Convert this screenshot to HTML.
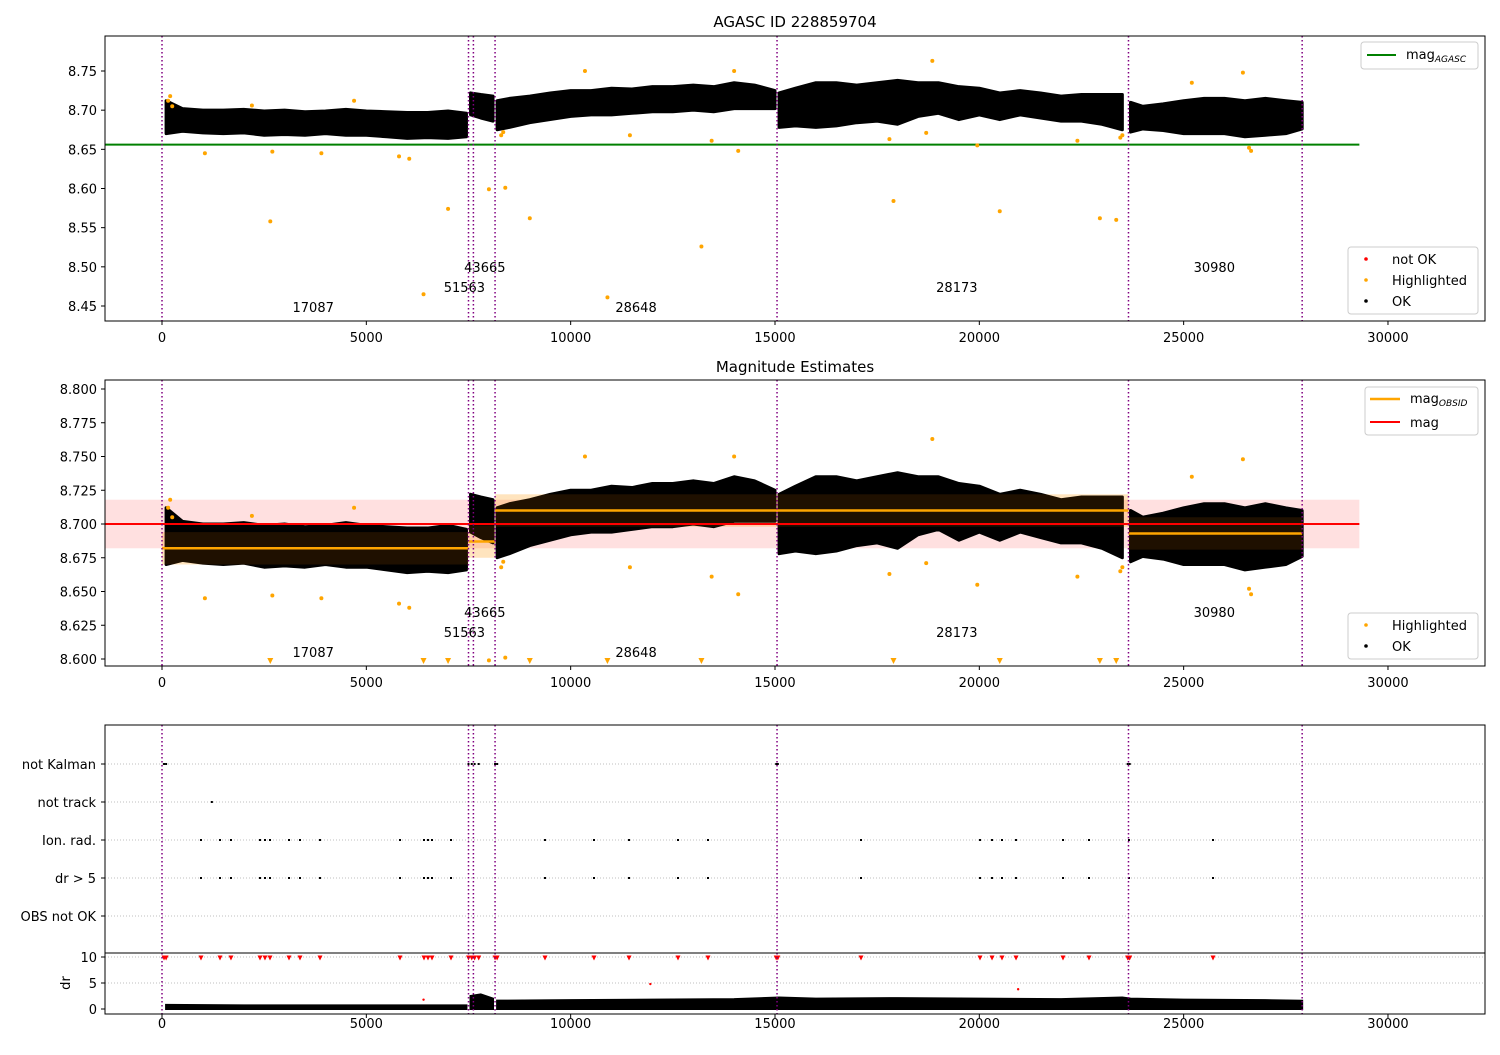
<!DOCTYPE html>
<html><head><meta charset="utf-8"><style>
body{margin:0;background:#fff}
svg text{font-family:"DejaVu Sans","Liberation Sans",sans-serif;fill:#000}
</style></head><body>
<svg id="c" width="1500" height="1050" xmlns="http://www.w3.org/2000/svg"></svg>
<script>
// ---- data ----
const seg1T=[100,500,1000,1500,2000,2500,3000,3500,4000,4500,5000,5500,6000,6500,7000,7450];
const seg1Hi=[8.712,8.702,8.700,8.700,8.701,8.699,8.700,8.698,8.699,8.701,8.699,8.698,8.697,8.697,8.699,8.696];
const seg1Lo=[8.670,8.673,8.671,8.670,8.671,8.668,8.669,8.668,8.670,8.668,8.668,8.666,8.664,8.665,8.664,8.666];
const seg2T=[7550,7800,8100];
const seg2Hi=[8.722,8.720,8.718];
const seg2Lo=[8.694,8.690,8.686];
const seg3T=[8200,8500,9000,9500,10000,10500,11000,11500,12000,12500,13000,13500,14000,14500,15000];
const seg3Hi=[8.712,8.715,8.718,8.722,8.725,8.725,8.728,8.727,8.730,8.730,8.732,8.730,8.735,8.732,8.725];
const seg3Lo=[8.675,8.678,8.684,8.688,8.692,8.694,8.694,8.696,8.698,8.698,8.700,8.698,8.702,8.702,8.702];
const seg4T=[15100,15500,16000,16500,17000,17500,18000,18500,19000,19500,20000,20500,21000,21500,22000,22500,23000,23500];
const seg4Hi=[8.722,8.728,8.735,8.735,8.732,8.735,8.738,8.735,8.735,8.730,8.728,8.722,8.725,8.722,8.718,8.720,8.720,8.720];
const seg4Lo=[8.678,8.680,8.678,8.680,8.684,8.686,8.682,8.692,8.696,8.688,8.694,8.688,8.694,8.690,8.686,8.686,8.682,8.675];
const seg5T=[23700,24000,24500,25000,25500,26000,26500,27000,27500,27900];
const seg5Hi=[8.710,8.705,8.708,8.712,8.715,8.715,8.712,8.715,8.712,8.710];
const seg5Lo=[8.672,8.676,8.674,8.670,8.670,8.670,8.666,8.668,8.670,8.676];
const hlT=[150,200,250,2650,1050,2700,3900,5800,6050,6400,7000,8000,8400,8300,8350,9000,10900,11450,13200,13450,14100,17800,17900,18700,19950,20500,22400,22950,23350,23450,23500,10350,14000,18850,26450,25200,26600,26650,4700,2200];
const hlV=[8.712,8.718,8.705,8.558,8.645,8.647,8.645,8.641,8.638,8.465,8.574,8.599,8.601,8.668,8.672,8.562,8.461,8.668,8.526,8.661,8.648,8.663,8.584,8.671,8.655,8.571,8.661,8.562,8.560,8.665,8.668,8.750,8.750,8.763,8.748,8.735,8.652,8.648,8.712,8.706];
const obsT=[0,7500,7620,8150,15050,23650,27900];
const stepStart=[0,7500,8150,15050,23650];
const stepEnd=[7500,8150,15050,23650,27900];
const stepMag=[8.682,8.687,8.710,8.710,8.693];
const magAgasc=8.656, magMean=8.700, magStd=0.018;
const obsLabels=["17087","51563","43665","28648","28173","30980"];
const obsLabelT=[3700,7400,7900,11600,19450,25750];
const obsLabelLvl=[0,1,2,0,1,2];
const flagCats=["not Kalman","not track","Ion. rad.","dr > 5","OBS not OK"];
const kalmanT=[50,100,7500,7580,7650,7750,8150,8200,15030,15070,23630,23680];
const trackT=[1220];
const ionT=[954,1419,1688,2398,2520,2643,3108,3377,3866,5824,6411,6509,6607,7072,9372,10571,11428,12627,13361,17105,20017,20311,20555,20898,22048,22684,23662,25718];
const drT=[100,2000,4000,6000,7450,7550,7800,8100,8200,10000,12000,14000,15100,16000,18000,20000,22000,23500,23700,25000,27000,27900];
const drHi=[0.8,0.7,0.7,0.7,0.7,2.5,2.8,2.0,1.6,1.7,1.8,1.9,2.2,2.0,2.1,2.0,1.9,2.2,2.0,1.8,1.7,1.6];
const drExtraT=[11950,20950,6400];const drExtraV=[4.8,3.8,1.8];
const xTicks=[0,5000,10000,15000,20000,25000,30000];
const y1Ticks=[8.45,8.50,8.55,8.60,8.65,8.70,8.75];
const y2Ticks=[8.600,8.625,8.650,8.675,8.700,8.725,8.750,8.775,8.800];
const drTicks=[0,5,10];
// ---- scales ----
const X=v=>162+v*0.040866;
const Y1=v=>71+(8.75-v)*783.3;
const Y2=v=>389+(8.8-v)*1350;
const YF=i=>764+i*38;
const YD=v=>1009-v*5.2;
const svg=document.getElementById('c');
const NS='http://www.w3.org/2000/svg';
function mk(tag,a,name,parent){const e=document.createElementNS(NS,tag);for(const k in a)e.setAttribute(k,a[k]);


(parent||svg).appendChild(e);return e;}
function txt(x,y,s,name,o){const e=mk('text',Object.assign({x:x,y:y,'font-size':13},o||{}),name);e.textContent=s;return e;}
const clipDefs=mk('defs',{},'defs');
function clip(id,y0,y1){const cp=mk('clipPath',{id:id},'clip',clipDefs);mk('rect',{x:105,y:y0,width:1380,height:y1-y0},'clip-rect',cp);}
clip('c1',36,321);clip('c2',380,666);clip('c3',725,1014);
const segs=[[seg1T,seg1Hi,seg1Lo],[seg2T,seg2Hi,seg2Lo],[seg3T,seg3Hi,seg3Lo],[seg4T,seg4Hi,seg4Lo],[seg5T,seg5Hi,seg5Lo]];
function band(Y,g,name){segs.forEach((s,i)=>{let p=s[0].map((t,j)=>X(t)+','+Y(s[1][j]));p=p.concat(s[0].map((t,j)=>X(t)+','+Y(s[2][j])).reverse());
mk('polygon',{points:p.join(' '),fill:'#000',stroke:'#000','stroke-width':3,'stroke-linejoin':'round'},name+'-ok-points-'+i,g);});}
function vlines(y0,y1,g){obsT.forEach(t=>{mk('line',{x1:X(t),x2:X(t),y1:y0,y2:y1,stroke:'#800080','stroke-width':1.5,'stroke-dasharray':'1.5,2.5'},'obsid-boundary',g);});}
function xaxis(yb,yl){xTicks.forEach(t=>{mk('line',{x1:X(t),x2:X(t),y1:yb,y2:yb+4,stroke:'#000'},'x-tick');txt(X(t),yl,String(t),'x-tick-label',{'text-anchor':'middle'});});}
function obsText(Y0,step){obsLabels.forEach((s,i)=>txt(X(obsLabelT[i]),Y0-obsLabelLvl[i]*step,s,'obsid-label',{'text-anchor':'middle'}));}
// ---- panel 1 ----
txt(795,27,'AGASC ID 228859704','title-agasc',{'text-anchor':'middle','font-size':15});
const g1=mk('g',{'clip-path':'url(#c1)'},'panel1-plot');
band(Y1,g1,'p1');
mk('line',{x1:105,x2:X(29300),y1:Y1(magAgasc),y2:Y1(magAgasc),stroke:'#008000','stroke-width':2},'mag-agasc-line',g1);
hlT.forEach((t,i)=>mk('circle',{cx:X(t),cy:Y1(hlV[i]),r:2,fill:'orange'},'highlighted-point',g1));
vlines(36,321,g1);
obsText(312,20);
mk('rect',{x:105,y:36,width:1380,height:285,fill:'none',stroke:'#000'},'panel1-frame');
y1Ticks.forEach(v=>{mk('line',{x1:101,x2:105,y1:Y1(v),y2:Y1(v),stroke:'#000'},'y-tick');txt(97,Y1(v)+5,v.toFixed(2),'y-tick-label',{'text-anchor':'end'});});
xaxis(321,342);
mk('rect',{x:1361,y:42,width:117,height:27,fill:'#fff',stroke:'#ccc',rx:3},'legend-p1-top');
mk('line',{x1:1367,x2:1396,y1:55,y2:55,stroke:'#008000','stroke-width':2},'legend-mag-agasc-swatch');
const lt=txt(1406,59,'mag','legend-mag-agasc');const ts=document.createElementNS(NS,'tspan');ts.setAttribute('font-size',9);ts.setAttribute('dy',3);ts.setAttribute('font-style','italic');ts.textContent='AGASC';lt.appendChild(ts);
mk('rect',{x:1348,y:247,width:130,height:67,fill:'#fff',stroke:'#ccc',rx:3},'legend-p1-bottom');
[['red','not OK'],['orange','Highlighted'],['#000','OK']].forEach((e,i)=>{mk('circle',{cx:1366,cy:259+i*21,r:1.8,fill:e[0]},'legend-swatch');txt(1392,264+i*21,e[1],'legend-entry');});
// ---- panel 2 ----
txt(795,372,'Magnitude Estimates','title-mag-estimates',{'text-anchor':'middle','font-size':15});
const g2=mk('g',{'clip-path':'url(#c2)'},'panel2-plot');
mk('rect',{x:105,y:Y2(magMean+magStd),width:X(29300)-105,height:Y2(magMean-magStd)-Y2(magMean+magStd),fill:'rgba(255,0,0,0.12)'},'mag-std-band',g2);
stepMag.forEach((m,i)=>mk('rect',{x:X(stepStart[i]),y:Y2(m+0.012),width:X(stepEnd[i])-X(stepStart[i]),height:Y2(m-0.012)-Y2(m+0.012),fill:'rgba(255,165,0,0.15)'},'mag-obsid-band',g2));
band(Y2,g2,'p2');
stepMag.forEach((m,i)=>mk('rect',{x:X(stepStart[i]),y:Y2(m+0.012),width:X(stepEnd[i])-X(stepStart[i]),height:Y2(m-0.012)-Y2(m+0.012),fill:'rgba(255,130,0,0.12)'},'mag-obsid-band-overlay',g2));
stepMag.forEach((m,i)=>mk('line',{x1:X(stepStart[i]),x2:X(stepEnd[i]),y1:Y2(m),y2:Y2(m),stroke:'orange','stroke-width':2.5},'mag-obsid-step',g2));
mk('line',{x1:105,x2:X(29300),y1:Y2(magMean),y2:Y2(magMean),stroke:'red','stroke-width':2},'mag-line',g2);
hlT.forEach((t,i)=>{if(hlV[i]>=8.598)mk('circle',{cx:X(t),cy:Y2(hlV[i]),r:2,fill:'orange'},'highlighted-point',g2);
else{const x=X(t),y=Y2(8.5985);mk('polygon',{points:(x-3)+','+(y-3)+' '+(x+3)+','+(y-3)+' '+x+','+(y+3),fill:'orange'},'highlighted-offscale-marker',g2);}});
vlines(380,666,g2);
obsText(657,20);
mk('rect',{x:105,y:380,width:1380,height:286,fill:'none',stroke:'#000'},'panel2-frame');
y2Ticks.forEach(v=>{mk('line',{x1:101,x2:105,y1:Y2(v),y2:Y2(v),stroke:'#000'},'y-tick');txt(97,Y2(v)+5,v.toFixed(3),'y-tick-label',{'text-anchor':'end'});});
xaxis(666,687);
mk('rect',{x:1365,y:387,width:113,height:48,fill:'#fff',stroke:'#ccc',rx:3},'legend-p2-top');
mk('line',{x1:1370,x2:1400,y1:399,y2:399,stroke:'orange','stroke-width':2.5},'legend-mag-obsid-swatch');
const lt2=txt(1410,403,'mag','legend-mag-obsid');const ts2=document.createElementNS(NS,'tspan');ts2.setAttribute('font-size',9);ts2.setAttribute('dy',3);ts2.setAttribute('font-style','italic');ts2.textContent='OBSID';lt2.appendChild(ts2);
mk('line',{x1:1370,x2:1400,y1:422,y2:422,stroke:'red','stroke-width':2},'legend-mag-swatch');txt(1410,427,'mag','legend-mag');
mk('rect',{x:1348,y:613,width:130,height:46,fill:'#fff',stroke:'#ccc',rx:3},'legend-p2-bottom');
[['orange','Highlighted'],['#000','OK']].forEach((e,i)=>{mk('circle',{cx:1366,cy:625+i*21,r:1.8,fill:e[0]},'legend-swatch');txt(1392,630+i*21,e[1],'legend-entry');});
// ---- panel 3 ----
const g3=mk('g',{'clip-path':'url(#c3)'},'panel3-plot');
flagCats.forEach((c,i)=>{mk('line',{x1:105,x2:1485,y1:YF(i),y2:YF(i),stroke:'#aaa','stroke-width':0.8,'stroke-dasharray':'1,2'},'flag-grid',g3);
mk('line',{x1:101,x2:105,y1:YF(i),y2:YF(i),stroke:'#000'},'y-tick');txt(96,YF(i)+5,c,'flag-label',{'text-anchor':'end'});});
[5,10].forEach(v=>mk('line',{x1:105,x2:1485,y1:YD(v),y2:YD(v),stroke:'#aaa','stroke-width':0.8,'stroke-dasharray':'1,2'},'dr-grid',g3));
function pts(arr,row,col,name){arr.forEach(t=>mk('rect',{x:X(t)-1,y:YF(row)-1,width:2,height:2,fill:col},name,g3));}
pts(kalmanT,0,'#000','not-kalman-point');pts(trackT,1,'#000','not-track-point');pts(ionT,2,'#000','ion-rad-point');pts(ionT,3,'#000','dr-gt5-point');
kalmanT.concat(ionT).forEach(t=>{const x=X(t),y=YD(9.8);mk('polygon',{points:(x-2.5)+','+(y-2.5)+' '+(x+2.5)+','+(y-2.5)+' '+x+','+(y+2.5),fill:'red'},'dr-offscale-marker',g3);});
[[0,5],[5,8],[8,22]].forEach(r=>{const tt=drT.slice(r[0],r[1]),hh=drHi.slice(r[0],r[1]);
let pp=tt.map((t,j)=>X(t)+','+YD(hh[j])).concat(tt.map(t=>X(t)+','+YD(0)).reverse());
mk('polygon',{points:pp.join(' '),fill:'#000',stroke:'#000','stroke-width':2},'dr-points',g3);});
drExtraT.forEach((t,i)=>mk('circle',{cx:X(t),cy:YD(drExtraV[i]),r:1.2,fill:'red'},'dr-point',g3));
vlines(725,1014,g3);
mk('line',{x1:105,x2:1485,y1:953,y2:953,stroke:'#000'},'dr-divider');
mk('rect',{x:105,y:725,width:1380,height:289,fill:'none',stroke:'#000'},'panel3-frame');
drTicks.forEach(v=>{mk('line',{x1:101,x2:105,y1:YD(v),y2:YD(v),stroke:'#000'},'y-tick');txt(97,YD(v)+5,String(v),'dr-tick-label',{'text-anchor':'end'});});
txt(70,983,'dr','dr-axis-title',{'text-anchor':'middle',transform:'rotate(-90 70 983)'});
xaxis(1014,1028);
</script>
</body></html>
